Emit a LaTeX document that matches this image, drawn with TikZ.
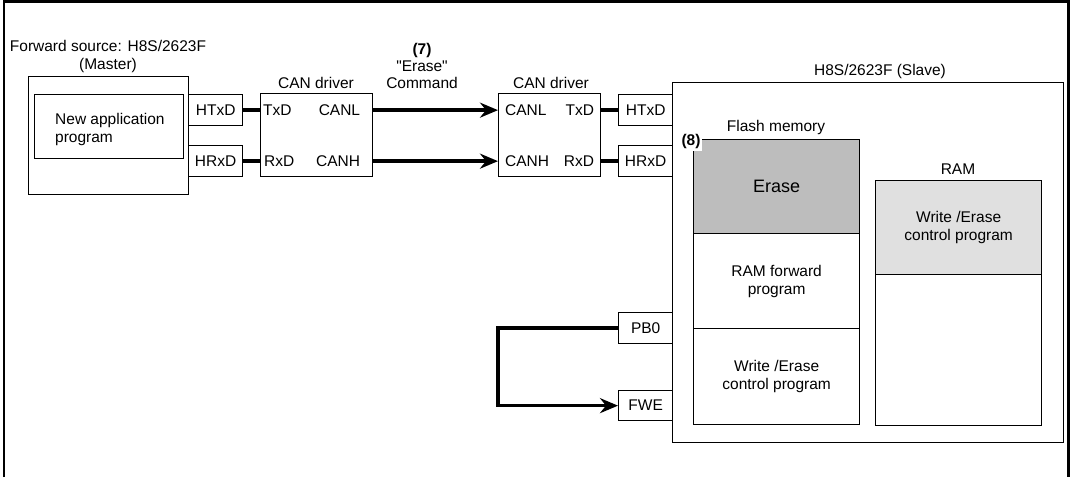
\documentclass[tikz,border=0pt]{standalone}
\usepackage{fontspec}
\setmainfont{Liberation Sans}
\usetikzlibrary{arrows.meta}
\definecolor{erasegray}{RGB}{189,189,189}
\definecolor{ramgray}{RGB}{224,224,224}
\begin{document}
\begin{tikzpicture}[x=1pt,y=-1pt,
  font=\fontsize{15.5}{18}\selectfont,
  box/.style={draw, line width=1.3pt, rectangle, inner sep=0pt, anchor=north west},
  txt/.style={inner sep=0pt},
  wire/.style={line width=3.6pt},
  arr/.style={line width=3.6pt, -{Stealth[length=18pt,width=15pt,inset=6pt]}},
  sect/.style={draw, line width=1.3pt, rectangle, inner sep=0pt, anchor=north west, align=center, minimum width=166pt}]
\useasboundingbox (0,0) rectangle (1074,477);
% outer frame
\draw[line width=2.6pt] (4,477) -- (4,1.3) -- (1068.7,1.3) -- (1068.7,477);

% master
\node[box, minimum width=160pt, minimum height=118pt] (master) at (28,76) {};
\node[txt, anchor=base] (mt1) at (108,51) {Forward source: H8S/2623F};
\node[txt, anchor=base] (mt2) at (108,69.5) {(Master)};
\node[box, minimum width=149pt, minimum height=64pt] (app) at (34,94) {};
\node[txt, anchor=base west] (app1) at (55,124) {New application};
\node[txt, anchor=base west] (app2) at (55,142) {program};
\node[box, minimum width=54pt, minimum height=31pt] (htx1) at (188,94) {HTxD};
\node[box, minimum width=54pt, minimum height=31pt] (hrx1) at (188,145) {HRxD};

% CAN driver 1
\node[box, minimum width=112pt, minimum height=83pt] (can1) at (260,93) {};
\node[txt, anchor=base] (can1l) at (316,88) {CAN driver};
\node[txt, anchor=west] (c1tx) at ([xshift=3pt]can1.west |- htx1.center) {TxD};
\node[txt, anchor=west] (c1rx) at ([xshift=4pt]can1.west |- hrx1.center) {RxD};
\node[txt, anchor=east] (c1cl) at ([xshift=-13pt]can1.east |- htx1.center) {CANL};
\node[txt, anchor=east] (c1ch) at ([xshift=-13pt]can1.east |- hrx1.center) {CANH};

% CAN driver 2
\node[box, minimum width=102pt, minimum height=83pt] (can2) at (498,93) {};
\node[txt, anchor=base] (can2l) at (551,88) {CAN driver};
\node[txt, anchor=west] (c2cl) at ([xshift=7pt]can2.west |- htx1.center) {CANL};
\node[txt, anchor=west] (c2ch) at ([xshift=7pt]can2.west |- hrx1.center) {CANH};
\node[txt, anchor=east] (c2tx) at ([xshift=-7pt]can2.east |- htx1.center) {TxD};
\node[txt, anchor=east] (c2rx) at ([xshift=-7pt]can2.east |- hrx1.center) {RxD};

% command label
\node[txt, anchor=base, font=\fontsize{15.5}{18}\selectfont\bfseries] (l7) at (422,54) {(7)};
\node[txt, anchor=base] (l7a) at (422,71) {\textquotedbl Erase\textquotedbl};
\node[txt, anchor=base] (l7b) at (422,88) {Command};

% slave
\node[box, minimum width=391pt, minimum height=360pt] (slave) at (672,82) {};
\node[txt, anchor=base] (slavel) at (880,75) {H8S/2623F (Slave)};
\node[box, minimum width=54pt, minimum height=31pt] (htx2) at (618,94) {HTxD};
\node[box, minimum width=54pt, minimum height=31pt] (hrx2) at (618,145) {HRxD};
\node[box, minimum width=54pt, minimum height=31pt] (pb0) at (618,312) {PB0};
\node[box, minimum width=54pt, minimum height=30pt] (fwe) at (618,390) {FWE};

% flash memory
\node[txt, anchor=base] (flashl) at (776,131) {Flash memory};
\node[sect, fill=erasegray, minimum height=94pt, font=\fontsize{18}{21}\selectfont] (erase) at (693,139) {Erase};
\node[sect, minimum height=95pt] (ramfwd) at (693,233) {RAM forward\\program};
\node[sect, minimum height=96pt] (wectl) at (693,328) {Write /Erase\\control program};
\node[txt, fill=white, inner sep=2pt, anchor=base, font=\fontsize{15.5}{18}\selectfont\bfseries] (l8) at (691,145.5) {(8)};

% RAM
\node[txt, anchor=base] (raml) at (958,174) {RAM};
\node[sect, fill=ramgray, minimum height=94pt] (ramctl) at (875,180) {Write /Erase\\control program};
\node[sect, minimum height=151pt] (ramfree) at (875,274) {};

% connectors
\draw[wire] (htx1.east) -- (htx1.east -| can1.west);
\draw[wire] (hrx1.east) -- (hrx1.east -| can1.west);
\draw[arr] (htx1.center -| can1.east) -- (htx1.center -| can2.west);
\draw[arr] (hrx1.center -| can1.east) -- (hrx1.center -| can2.west);
\draw[wire] (htx2.center -| can2.east) -- (htx2.west);
\draw[wire] (hrx2.center -| can2.east) -- (hrx2.west);
\draw[arr] (pb0.west) -- ++(-120,0) |- (fwe.west);
\end{tikzpicture}
\end{document}
